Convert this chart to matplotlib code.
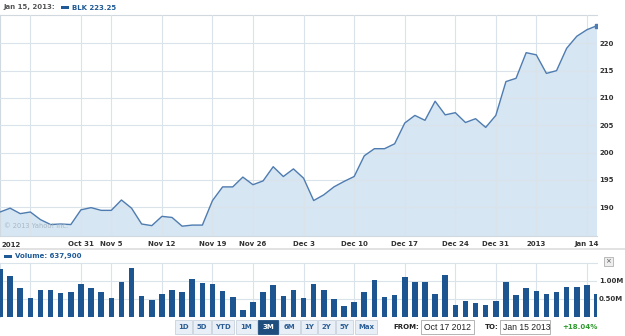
import matplotlib
matplotlib.use("Agg")
import matplotlib.pyplot as plt
from matplotlib.patches import Rectangle
import pandas as pd

# ---------------- data ----------------
holidays = ["2012-10-29", "2012-10-30", "2012-11-22", "2012-12-25", "2013-01-01"]
dates = [d.strftime("%Y-%m-%d") for d in pd.bdate_range("2012-10-17", "2013-01-15")
         if d.strftime("%Y-%m-%d") not in holidays]

close = [189.1, 189.8, 188.8, 189.1, 187.7, 186.8, 186.9, 186.8, 189.5, 189.9,
         189.4, 189.4, 191.3, 189.8, 186.9, 186.6, 188.3, 188.1, 186.5, 186.7,
         186.7, 191.2, 193.7, 193.7, 195.5, 194.1, 194.8, 197.4, 195.6, 197.0,
         195.3, 191.2, 192.25, 193.7, 194.7, 195.6, 199.4, 200.7, 200.7, 201.6,
         205.4, 206.8, 205.9, 209.4, 206.9, 207.3, 205.5, 206.2, 204.6, 206.8,
         213.0, 213.6, 218.3, 217.9, 214.5, 215.0, 219.1, 221.3, 222.5, 223.25]

volume_m = [1.34, 1.14, 0.81, 0.51, 0.74, 0.74, 0.66, 0.68, 0.92, 0.81,
            0.68, 0.53, 0.96, 1.37, 0.57, 0.46, 0.64, 0.74, 0.70, 1.05,
            0.95, 0.92, 0.72, 0.55, 0.19, 0.41, 0.70, 0.89, 0.57, 0.74,
            0.53, 0.92, 0.74, 0.48, 0.29, 0.40, 0.70, 1.02, 0.55, 0.61,
            1.11, 0.98, 0.96, 0.62, 1.17, 0.31, 0.44, 0.37, 0.32, 0.44,
            0.96, 0.59, 0.80, 0.72, 0.64, 0.68, 0.83, 0.83, 0.87, 0.6379]

grid_dates = ["2012-10-22", "2012-10-31", "2012-11-05", "2012-11-12", "2012-11-19",
              "2012-11-26", "2012-12-03", "2012-12-10", "2012-12-17", "2012-12-24",
              "2012-12-31", "2013-01-07", "2013-01-14"]
grid_labels = ["", "Oct 31", "Nov 5", "Nov 12", "Nov 19", "Nov 26", "Dec 3",
               "Dec 10", "Dec 17", "Dec 24", "Dec 31", "2013", "Jan 14"]
first_label = "2012"

price_ticks = [190, 195, 200, 205, 210, 215, 220]
vol_ticks = [0.5, 1.0]
vol_tick_labels = ["0.50M", "1.00M"]

ranges = ["1D", "5D", "YTD", "1M", "3M", "6M", "1Y", "2Y", "5Y", "Max"]
selected_range = "3M"
header_date = "Jan 15, 2013:"
symbol = "BLK"
from_date = "Oct 17 2012"
to_date = "Jan 15 2013"
change = "+18.04%"

# ---------------- layout ----------------
W, H = 625, 336
fig = plt.figure(figsize=(W / 100, H / 100), dpi=100)
fig.patch.set_facecolor("white")

def px(x0, y0, x1, y1):
    return [x0 / W, 1 - y1 / H, (x1 - x0) / W, (y1 - y0) / H]

FONT = "DejaVu Sans"
TXT = "#333333"
GRID = "#dae2ea"
LINE = "#4f7cb0"
FILL = "#d6e6f2"
BAR = "#1d5590"
BLUE_TXT = "#1f5a96"

xs = list(range(len(dates)))
grid_pos = [dates.index(d) for d in grid_dates]

# price panel
ax = fig.add_axes(px(0, 15, 597, 236))
ax.fill_between(xs, close, 150, color=FILL, lw=0, zorder=1)
ax.plot(xs, close, color=LINE, lw=1.0, zorder=3)
ax.plot(xs[-1], close[-1], "s", color=LINE, ms=2.2, zorder=4)
ax.set_xlim(0, len(dates) - 1)
ax.set_ylim(184.7, 225.2)
ax.set_xticks(grid_pos)
ax.set_xticklabels(grid_labels)
ax.set_yticks(price_ticks)
ax.yaxis.tick_right()
ax.grid(True, color=GRID, lw=0.8, zorder=2)
ax.set_axisbelow(False)
for g in ax.get_xgridlines() + ax.get_ygridlines():
    g.set_zorder(2)
ax.tick_params(axis="both", length=0, labelsize=5, labelcolor=TXT)
ax.tick_params(axis="x", pad=3.5)
ax.tick_params(axis="y", pad=1.5)
for lab in ax.get_xticklabels() + ax.get_yticklabels():
    lab.set_fontweight("bold")
    lab.set_family(FONT)
ax.spines["right"].set_visible(False)
for s in ["top", "bottom", "left"]:
    ax.spines[s].set_color("#d0d8e0")
    ax.spines[s].set_linewidth(0.8)
ax.text(0.002, -0.027, first_label, transform=ax.transAxes, ha="left", va="top",
        fontsize=5, fontweight="bold", color=TXT, family=FONT)
ax.text(0.006, 0.03, "© 2013 Yahoo! Inc.", transform=ax.transAxes, ha="left",
        va="bottom", fontsize=4.8, color="#a8b7c5", family=FONT, zorder=5)

# volume panel
av = fig.add_axes(px(0, 263, 597, 316.5))
av.bar(xs, volume_m, width=0.55, color=BAR, zorder=3)
av.set_xlim(0, len(dates) - 1)
av.set_ylim(0, 1.5)
av.set_xticks(grid_pos)
av.set_xticklabels([])
av.set_yticks(vol_ticks)
av.set_yticklabels(vol_tick_labels)
av.yaxis.tick_right()
av.grid(True, color=GRID, lw=0.8, zorder=1)
av.tick_params(axis="both", length=0, labelsize=5, labelcolor=TXT)
av.tick_params(axis="y", pad=1.5)
for lab in av.get_yticklabels():
    lab.set_fontweight("bold")
    lab.set_family(FONT)
for s in ["right", "bottom"]:
    av.spines[s].set_visible(False)
for s in ["top", "left"]:
    av.spines[s].set_color(GRID)
    av.spines[s].set_linewidth(0.8)

# overlay for header, separators and controls (pixel coordinates)
ov = fig.add_axes([0, 0, 1, 1], facecolor="none", zorder=10)
ov.set_xlim(0, W)
ov.set_ylim(H, 0)
ov.axis("off")

# header
ov.text(3, 7.5, header_date, fontsize=5, fontweight="bold", color="#555555",
        va="center", ha="left", family=FONT)
ov.add_patch(Rectangle((61, 5.5), 8, 3.2, color=BLUE_TXT, lw=0))
ov.text(72, 7.5, f"{symbol} {close[-1]:.2f}", fontsize=5, fontweight="bold",
        color=BLUE_TXT, va="center", ha="left", family=FONT)

# separator below date labels
ov.plot([0, W], [249, 249], color="#e2e2e2", lw=1.4)

# volume header
ov.add_patch(Rectangle((4, 254.5), 8, 3.2, color=BLUE_TXT, lw=0))
ov.text(15, 256.3, f"Volume: {volume_m[-1] * 1e6:,.0f}", fontsize=5,
        fontweight="bold", color=BLUE_TXT, va="center", ha="left", family=FONT)

# close button
ov.add_patch(Rectangle((604, 257), 8.5, 8.5, facecolor="#eeeeee",
                       edgecolor="#b0b0b0", lw=0.6))
ov.text(608.3, 261.4, "×", fontsize=5, color="#555555", ha="center",
        va="center", family=FONT)

# range buttons
bx = [175, 193, 212, 236, 258, 279, 301, 318, 336, 355]
bw = [17, 18, 22, 21, 20, 21, 16, 17, 17, 22]
for lab, x0, w in zip(ranges, bx, bw):
    sel = lab == selected_range
    ov.add_patch(Rectangle((x0, 320), w, 13.5,
                           facecolor="#1f4d7e" if sel else "#e9eff6",
                           edgecolor="#1f4d7e" if sel else "#c8d2dd", lw=0.6))
    ov.text(x0 + w / 2, 327, lab, fontsize=5, fontweight="bold",
            color="white" if sel else "#2d5f96", ha="center", va="center",
            family=FONT)

ov.text(393, 327, "FROM:", fontsize=5, fontweight="bold", color="#222222",
        ha="left", va="center", family=FONT)
ov.add_patch(Rectangle((421, 319.5), 53, 14, facecolor="white",
                       edgecolor="#a8a8a8", lw=0.6))
ov.text(424, 327, from_date, fontsize=6.2, color="#222222", ha="left",
        va="center", family="Liberation Sans")
ov.text(485, 327, "TO:", fontsize=5, fontweight="bold", color="#222222",
        ha="left", va="center", family=FONT)
ov.add_patch(Rectangle((500, 319.5), 50, 14, facecolor="white",
                       edgecolor="#a8a8a8", lw=0.6))
ov.text(503, 327, to_date, fontsize=6.2, color="#222222", ha="left",
        va="center", family="Liberation Sans")
ov.text(562, 327, change, fontsize=5, fontweight="bold", color="#2e9a2e",
        ha="left", va="center", family=FONT)

fig.savefig("out.png", dpi=100, facecolor="white")
